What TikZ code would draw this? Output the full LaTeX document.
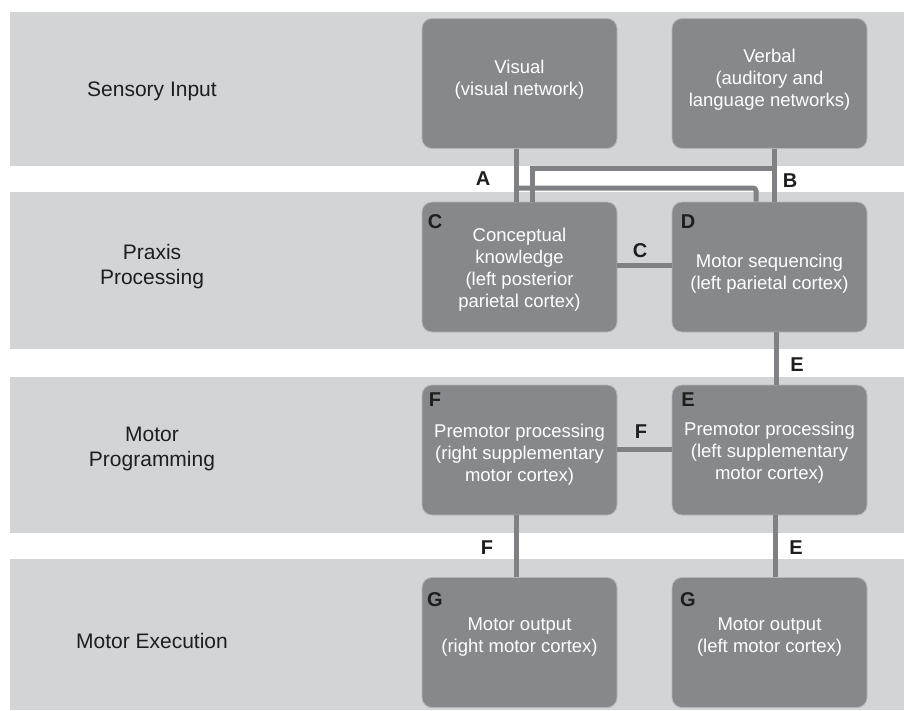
\documentclass[tikz,border=0pt]{standalone}
\usepackage{fontspec}
\setmainfont{Liberation Sans}
\definecolor{bandgray}{HTML}{D3D4D6}
\definecolor{boxgray}{HTML}{87888C}
\definecolor{rimgray}{HTML}{B4B5B8}
\definecolor{linegray}{HTML}{808185}
\definecolor{labelblack}{HTML}{1E1E1E}
\begin{document}
\begin{tikzpicture}[x=1pt,y=-1pt,
  band/.style={fill=bandgray,draw=none},
  box/.style={rectangle,rounded corners=10pt,fill=boxgray,draw=rimgray,line width=0.8pt,
    minimum width=195pt,minimum height=130pt,inner sep=0pt},
  btext/.style={text=white,align=center,font=\fontsize{18.5}{22}\selectfont,inner sep=0pt},
  rowlabel/.style={text=labelblack,align=center,font=\fontsize{21}{25}\selectfont,inner sep=0pt},
  letter/.style={text=labelblack,font=\fontsize{20}{22}\selectfont\bfseries,inner sep=0pt},
  conn/.style={draw=linegray,line width=5pt}]
\useasboundingbox (0,0) rectangle (904,710);
\fill[white] (0,0) rectangle (904,710);
% bands
\path[band] (10,12) rectangle (904,166);
\path[band] (10,192) rectangle (904,349);
\path[band] (10,377) rectangle (904,533);
\path[band] (10,559) rectangle (904,710);
% row labels
\node[rowlabel] (l1) at (152,91) {Sensory Input};
\node[rowlabel] (l2) at (152,267) {Praxis\\Processing};
\node[rowlabel] (l3) at (152,449) {Motor\\Programming};
\node[rowlabel] (l4) at (152,641) {Motor Execution};
% boxes
\node[box] (vis) at (519.5,83.5) {};
\node[box] (verb) at (769.5,83.5) {};
\node[box] (cbox) at (519.5,267) {};
\node[box] (dbox) at (769.5,267) {};
\node[box] (fbox) at (519.5,450) {};
\node[box] (ebox) at (769.5,450) {};
\node[box] (g1) at (519.5,642.5) {};
\node[box] (g2) at (769.5,642.5) {};
% box texts
\node[btext] (vist) at (519.5,80) {Visual\\(visual network)};
\node[btext] (verbt) at (769.5,80) {Verbal\\(auditory and\\language networks)};
\node[btext] (ct) at (519.5,270) {Conceptual\\knowledge\\(left posterior\\parietal cortex)};
\node[btext] (dt) at (769.5,274) {Motor sequencing\\(left parietal cortex)};
\node[btext] (ft) at (519.5,455) {Premotor processing\\(right supplementary\\motor cortex)};
\node[btext] (et) at (769.5,453) {Premotor processing\\(left supplementary\\motor cortex)};
\node[btext] (g1t) at (519.5,637) {Motor output\\(right motor cortex)};
\node[btext] (g2t) at (769.5,637) {Motor output\\(left motor cortex)};
% corner letters
\node[letter] (cc) at (435,222) {C};
\node[letter] (dc) at (688,222) {D};
\node[letter] (fc) at (435,400) {F};
\node[letter] (ec) at (688,400) {E};
\node[letter] (gc1) at (435,600) {G};
\node[letter] (gc2) at (688,600) {G};
% connector coordinates
\coordinate (ax) at (516,0);
\coordinate (bx) at (774,0);
\coordinate (b1) at (774,168);
\coordinate (c2x) at (532,0);
\coordinate (a1) at (516,188);
\coordinate (d2x) at (756,0);
\coordinate (cy) at (0,265);
\coordinate (fy) at (0,449);
\coordinate (ex) at (776,0);
\coordinate (flx) at (516,0);
\coordinate (elx) at (775,0);
% connectors
\draw[conn] (vis.south -| ax) -- (cbox.north -| ax);
\draw[conn] (verb.south -| bx) -- (dbox.north -| bx);
\draw[conn] (b1) -| (cbox.north -| c2x);
\draw[conn,rounded corners=3pt] (a1) -| (dbox.north -| d2x);
\draw[conn] (cbox.east |- cy) -- (dbox.west |- cy);
\draw[conn] (fbox.east |- fy) -- (ebox.west |- fy);
\draw[conn] (dbox.south -| ex) -- (ebox.north -| ex);
\draw[conn] (fbox.south -| flx) -- (g1.north -| flx);
\draw[conn] (ebox.south -| elx) -- (g2.north -| elx);
% connector labels
\node[letter] (la) at (483,179) {A};
\node[letter] (lb) at (790,181) {B};
\node[letter] (lc) at (640,251) {C};
\node[letter] (lf) at (641,432) {F};
\node[letter] (le) at (797,365) {E};
\node[letter] (lf2) at (487,548) {F};
\node[letter] (le2) at (796,548) {E};
\end{tikzpicture}
\end{document}
